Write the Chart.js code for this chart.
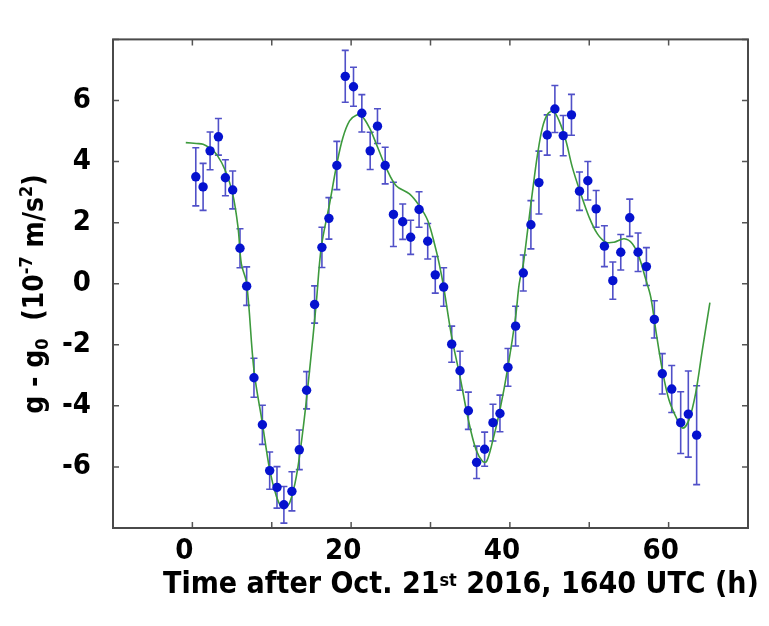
<!DOCTYPE html>
<html>
<head>
<meta charset="utf-8">
<script src="https://cdn.jsdelivr.net/npm/chart.js@4.4.1/dist/chart.umd.min.js"></script>
<style>
    html, body { margin: 0; padding: 0; background: #fff; }
    #wrap { width: 769px; height: 626px; }
</style>
</head>
<body>
<div id="wrap"><canvas id="gravityChart" width="769" height="626"></canvas></div>
<script>
// ─────────────────────────────────────────────
// DATA
// ─────────────────────────────────────────────
var hours = [
    0.43, 1.35, 2.23, 3.28, 4.16, 5.08, 6.0, 6.84, 7.76, 8.82,
    9.74, 10.66, 11.53, 12.54, 13.47, 14.39, 15.4, 16.32, 17.2, 18.2,
    19.26, 20.3, 21.35, 22.4, 23.32, 24.29, 25.33, 26.5, 27.5, 28.56,
    29.65, 30.6, 31.66, 32.67, 33.72, 34.77, 35.81, 36.82, 37.87, 38.75,
    39.76, 40.72, 41.69, 42.65, 43.66, 44.7, 45.67, 46.72, 47.76, 48.77,
    49.82, 50.87, 51.91, 52.97, 53.97, 55.1, 56.15, 57.2, 58.2, 59.2,
    60.39, 61.52, 62.48, 63.53
];
var deltaG = [
    3.50, 3.17, 4.35, 4.81, 3.47, 3.07, 1.16, -0.08, -3.08, -4.62,
    -6.12, -6.67, -7.24, -6.80, -5.44, -3.49, -0.68, 1.19, 2.14, 3.87,
    6.79, 6.45, 5.58, 4.35, 5.16, 3.87, 2.27, 2.03, 1.52, 2.43,
    1.39, 0.29, -0.11, -1.98, -2.85, -4.16, -5.85, -5.42, -4.55, -4.25,
    -2.74, -1.39, 0.35, 1.93, 3.31, 4.87, 5.72, 4.85, 5.53, 3.03,
    3.37, 2.45, 1.23, 0.10, 1.03, 2.16, 1.03, 0.56, -1.17, -2.95,
    -3.45, -4.55, -4.27, -4.96
];
var errG = [
    0.95, 0.77, 0.62, 0.60, 0.59, 0.62, 0.64, 0.63, 0.64, 0.64,
    0.61, 0.68, 0.60, 0.64, 0.65, 0.61, 0.61, 0.66, 0.68, 0.79,
    0.85, 0.64, 0.61, 0.61, 0.57, 0.60, 1.05, 0.58, 0.56, 0.58,
    0.58, 0.60, 0.63, 0.59, 0.64, 0.61, 0.53, 0.56, 0.60, 0.60,
    0.62, 0.65, 0.59, 0.79, 1.03, 0.66, 0.77, 0.66, 0.67, 0.63,
    0.63, 0.60, 0.67, 0.61, 0.58, 0.61, 0.63, 0.62, 0.61, 0.66,
    0.77, 1.01, 1.41, 1.62
];

// model curve
var fitHours = [
    -0.83, 0.5, 1.35, 2.2, 3.1, 4.16, 5.08, 5.75, 6.17, 6.84,
    7.76, 8.82, 9.74, 10.58, 11.2, 11.62, 12.25, 13.1, 13.93, 14.77,
    15.6, 16.24, 17.28, 18.2, 18.96, 19.8, 20.64, 21.35, 22.3, 23.35,
    24.4, 25.67, 27.35, 28.6, 29.65, 30.5, 31.1, 31.66, 32.67, 33.72,
    34.77, 35.74, 36.57, 37.07, 37.87, 38.75, 39.76, 40.72, 41.18, 41.69,
    42.23, 42.86, 43.49, 44.1, 44.74, 45.46, 46.21, 47.06, 47.88, 48.94,
    50.0, 51.03, 52.09, 53.13, 54.4, 55.43, 56.28, 57.1, 57.75, 58.38,
    59.21, 60.05, 61.1, 61.8, 62.56, 63.4, 64.24, 65.2
];
var fitG = [
    4.62, 4.59, 4.57, 4.44, 4.22, 3.70, 2.94, 1.85, 0.65, 0.00,
    -2.83, -4.57, -6.09, -6.96, -7.31, -7.34, -7.18, -6.31, -4.79, -2.83,
    -0.65, 1.19, 2.61, 3.92, 4.78, 5.33, 5.52, 5.49, 5.11, 4.46,
    3.80, 3.21, 2.94, 2.55, 2.07, 1.31, 0.65, -0.11, -1.74, -3.05,
    -4.46, -5.44, -5.82, -5.82, -5.11, -4.13, -2.72, -1.09, 0.00, 0.65,
    1.74, 3.04, 4.24, 5.11, 5.55, 5.65, 5.33, 4.68, 3.80, 2.94,
    2.17, 1.63, 1.36, 1.36, 1.47, 1.31, 0.87, 0.16, -0.44, -1.52,
    -2.83, -3.81, -4.46, -4.73, -4.46, -3.59, -2.18, -0.62
];

var xTickLabels = [0, 20, 40, 60];
var yTickLabels = [-6, -4, -2, 0, 2, 4, 6];

// ─────────────────────────────────────────────
// HELPERS
// ─────────────────────────────────────────────
var FONT_FAMILY = "'DejaVu Sans Condensed', 'DejaVu Sans', sans-serif";

function toPoints(xs, ys) {
    return xs.map(function (x, i) { return { x: x, y: ys[i] }; });
}

// draws a run of text pieces (sizes / vertical shifts) left to right
function drawRich(ctx, parts, cx, baseY) {
    var total = 0;
    parts.forEach(function (p) {
        ctx.font = 'bold ' + p.size + 'px ' + FONT_FAMILY;
        p.w = ctx.measureText(p.text).width;
        total += p.w;
    });
    var x = cx - total / 2;
    ctx.textAlign = 'left';
    ctx.textBaseline = 'alphabetic';
    parts.forEach(function (p) {
        ctx.font = 'bold ' + p.size + 'px ' + FONT_FAMILY;
        ctx.fillText(p.text, x, baseY + (p.dy || 0));
        x += p.w;
    });
}

var errorBarPlugin = {
    id: 'errorBars',
    beforeDatasetsDraw: function (chart) {
        var ctx = chart.ctx;
        var xs = chart.scales.x, ys = chart.scales.y;
        ctx.save();
        ctx.strokeStyle = '#5050c8';
        ctx.lineWidth = 1.6;
        hours.forEach(function (h, i) {
            var px = xs.getPixelForValue(h);
            var top = ys.getPixelForValue(deltaG[i] + errG[i]);
            var bot = ys.getPixelForValue(deltaG[i] - errG[i]);
            ctx.beginPath();
            ctx.moveTo(px, top); ctx.lineTo(px, bot);
            ctx.moveTo(px - 3.5, top); ctx.lineTo(px + 3.5, top);
            ctx.moveTo(px - 3.5, bot); ctx.lineTo(px + 3.5, bot);
            ctx.stroke();
        });
        ctx.restore();
    }
};

var framePlugin = {
    id: 'frameTicks',
    afterDraw: function (chart) {
        var ctx = chart.ctx, a = chart.chartArea;
        var xs = chart.scales.x, ys = chart.scales.y;
        ctx.save();
        ctx.strokeStyle = '#555';
        ctx.lineWidth = 1.5;
        ctx.beginPath();
        xs.ticks.forEach(function (t) {
            var px = xs.getPixelForValue(t.value);
            ctx.moveTo(px, a.bottom); ctx.lineTo(px, a.bottom - 6);
            ctx.moveTo(px, a.top); ctx.lineTo(px, a.top + 6);
        });
        ys.ticks.forEach(function (t) {
            var py = ys.getPixelForValue(t.value);
            ctx.moveTo(a.left, py); ctx.lineTo(a.left + 6, py);
            ctx.moveTo(a.right, py); ctx.lineTo(a.right - 6, py);
        });
        ctx.stroke();
        ctx.strokeStyle = '#4a4a4a';
        ctx.lineWidth = 2;
        ctx.strokeRect(a.left, a.top, a.right - a.left, a.bottom - a.top);

        // axis titles
        ctx.fillStyle = '#000';
        drawRich(ctx, [
            { text: 'Time after Oct. 21', size: 30 },
            { text: 'st', size: 18, dy: -7 },
            { text: ' 2016, 1640 UTC (h)', size: 30 }
        ], 461, 593);

        ctx.translate(43, 294);
        ctx.rotate(-Math.PI / 2);
        drawRich(ctx, [
            { text: 'g - g', size: 28 },
            { text: '0', size: 18, dy: 5 },
            { text: '  (10', size: 28 },
            { text: '-7', size: 18, dy: -11 },
            { text: ' m/s', size: 28 },
            { text: '2', size: 18, dy: -11 },
            { text: ')', size: 28 }
        ], 0, 0);
        ctx.restore();
    }
};

// ─────────────────────────────────────────────
// CHART
// ─────────────────────────────────────────────
var el = document.getElementById('gravityChart');
new Chart(el.getContext('2d'), {
    type: 'scatter',
    data: {
        datasets: [{
            label: 'Measured',
            data: toPoints(hours, deltaG),
            pointRadius: 4.7,
            pointHoverRadius: 4.7,
            backgroundColor: '#0512cf',
            borderWidth: 0,
            order: 1
        }, {
            label: 'Model',
            data: toPoints(fitHours, fitG),
            showLine: true,
            pointRadius: 0,
            borderColor: '#3d9a3d',
            borderWidth: 1.6,
            tension: 0.35,
            fill: false,
            order: 2
        }]
    },
    options: {
        responsive: false,
        animation: false,
        events: [],
        layout: { padding: { top: 39, right: 21, left: 0, bottom: 0 } },
        plugins: {
            legend: { display: false },
            tooltip: { enabled: false }
        },
        scales: {
            x: {
                type: 'linear',
                min: -10,
                max: 70,
                grid: { display: false, drawTicks: false },
                border: { display: false },
                ticks: {
                    stepSize: 10,
                    padding: 6,
                    labelOffset: -8,
                    color: '#000',
                    font: { family: FONT_FAMILY, size: 29, weight: 'bold' },
                    callback: function (v) { return xTickLabels.indexOf(v) >= 0 ? String(v) : ''; }
                },
                afterFit: function (s) { s.height = 98; }
            },
            y: {
                type: 'linear',
                min: -8,
                max: 8,
                grid: { display: false, drawTicks: false },
                border: { display: false },
                ticks: {
                    stepSize: 2,
                    padding: 22,
                    color: '#000',
                    font: { family: FONT_FAMILY, size: 29, weight: 'bold' },
                    callback: function (v) { return yTickLabels.indexOf(v) >= 0 ? String(v) : ''; }
                },
                afterFit: function (s) { s.width = 113; }
            }
        }
    },
    plugins: [errorBarPlugin, framePlugin]
});
</script>
</body>
</html>
